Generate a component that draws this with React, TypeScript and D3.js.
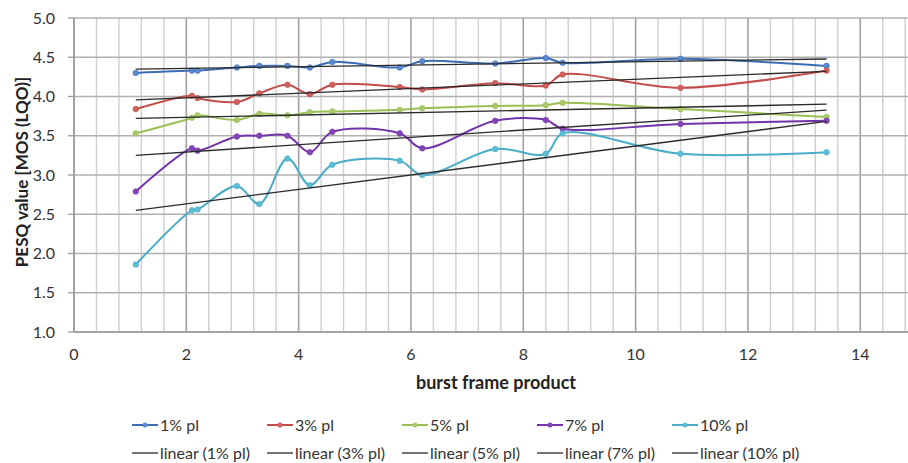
import React from "react";
import * as d3 from "d3";

const xValues = [1.1, 2.1, 2.2, 2.9, 3.3, 3.8, 4.2, 4.6, 5.8, 6.2, 7.5, 8.4, 8.7, 10.8, 13.4];
const pl1 = [4.30, 4.33, 4.33, 4.37, 4.39, 4.39, 4.37, 4.44, 4.37, 4.45, 4.42, 4.49, 4.43, 4.48, 4.39];
const pl3 = [3.84, 4.01, 3.98, 3.93, 4.04, 4.15, 4.03, 4.15, 4.12, 4.09, 4.17, 4.14, 4.28, 4.11, 4.33];
const pl5 = [3.53, 3.73, 3.76, 3.70, 3.78, 3.76, 3.80, 3.81, 3.83, 3.85, 3.88, 3.89, 3.92, 3.84, 3.74];
const pl7 = [2.79, 3.34, 3.31, 3.49, 3.50, 3.50, 3.29, 3.55, 3.53, 3.34, 3.69, 3.70, 3.59, 3.65, 3.69];
const pl10 = [1.86, 2.55, 2.56, 2.86, 2.63, 3.21, 2.87, 3.13, 3.18, 3.00, 3.33, 3.27, 3.53, 3.27, 3.29];

const seriesNames = ["1% pl", "3% pl", "5% pl", "7% pl", "10% pl"];
const seriesValues = [pl1, pl3, pl5, pl7, pl10];
const seriesColors = ["#3d6cb3", "#c24e4b", "#9bbf55", "#7234a8", "#48adc8"];
const markerColors = ["#5b8ad0", "#d0605c", "#a8c96a", "#8445b8", "#5cbdd6"];

const yTicks = [1.0, 1.5, 2.0, 2.5, 3.0, 3.5, 4.0, 4.5, 5.0];
const xTicks = [0, 2, 4, 6, 8, 10, 12, 14];

const W = 908;
const H = 463;
const left = 74;
const right = 908;
const top = 18;
const bottom = 332;
const FONT = "Lato, 'Open Sans', 'DejaVu Sans', sans-serif";

function linearFit(xs: number[], ys: number[]) {
  const mx = d3.mean(xs) as number;
  const my = d3.mean(ys) as number;
  let sxy = 0;
  let sxx = 0;
  xs.forEach((x, i) => {
    sxy += (x - mx) * (ys[i] - my);
    sxx += (x - mx) * (x - mx);
  });
  const b = sxy / sxx;
  const a = my - b * mx;
  return (x: number) => a + b * x;
}

export default function App() {
  const x = d3.scaleLinear().domain([0, 14.85]).range([left, right]);
  const y = d3.scaleLinear().domain([1, 5]).range([bottom, top]);

  const minorX = d3.range(0, 14.85, 0.4).map((v) => +v.toFixed(2));
  const line = d3
    .line<[number, number]>()
    .x((d) => x(d[0]))
    .y((d) => y(d[1]))
    .curve(d3.curveCatmullRom.alpha(0.5));

  const xMin = d3.min(xValues) as number;
  const xMax = d3.max(xValues) as number;

  const legendX = [132, 267, 402, 537, 672];

  return (
    <svg
      width={W}
      height={H}
      style={{ position: "absolute", left: 0, top: 0, background: "#fff" }}
      fontFamily={FONT}
    >
      {/* minor vertical grid */}
      {minorX.map((v, i) => {
        const major = Math.abs(v / 2 - Math.round(v / 2)) < 1e-6;
        return (
          <line
            key={"vx" + i}
            x1={x(v)}
            x2={x(v)}
            y1={top}
            y2={bottom}
            stroke={major ? "#a0a0a0" : "#cfcfcf"}
            strokeWidth={major ? 1.6 : 1.4}
          />
        );
      })}
      {/* horizontal grid */}
      {yTicks.map((v) => (
        <line
          key={"hy" + v}
          x1={left}
          x2={W}
          y1={y(v)}
          y2={y(v)}
          stroke="#b0b0b0"
          strokeWidth={1.6}
        />
      ))}
      {/* axes */}
      <line x1={left} x2={left} y1={top} y2={bottom} stroke="#9a9a9a" strokeWidth={1.3} />
      <line x1={left} x2={W} y1={bottom} y2={bottom} stroke="#9a9a9a" strokeWidth={1.3} />
      {yTicks.map((v) => (
        <g key={"yt" + v}>
          <line x1={left - 6} x2={left} y1={y(v)} y2={y(v)} stroke="#9a9a9a" strokeWidth={1.3} />
          <text
            x={55}
            y={y(v)}
            dy="0.35em"
            textAnchor="end"
            fontSize={16}
            fill="#333"
          >
            {v.toFixed(1)}
          </text>
        </g>
      ))}
      {xTicks.map((v) => (
        <text
          key={"xt" + v}
          x={x(v)}
          y={354}
          dy="0.35em"
          textAnchor="middle"
          fontSize={16}
          fill="#333"
        >
          {v}
        </text>
      ))}

      {/* axis titles */}
      <text
        x={496}
        y={383}
        dy="0.35em"
        textAnchor="middle"
        fontSize={18}
        fontWeight="bold"
        fill="#222"
      >
        burst frame product
      </text>
      <text
        transform={`translate(22,${(top + bottom) / 2 - 3}) rotate(-90)`}
        dy="0.35em"
        textAnchor="middle"
        fontSize={17}
        fontWeight="bold"
        fill="#222"
      >
        PESQ value [MOS (LQO)]
      </text>

      {/* series */}
      {seriesValues.map((vals, si) => {
        const pts = xValues.map((xv, i) => [xv, vals[i]] as [number, number]);
        return (
          <g key={"s" + si}>
            <path d={line(pts) || ""} fill="none" stroke={seriesColors[si]} strokeWidth={2} />
            {pts.map((p, i) => (
              <circle
                key={i}
                cx={x(p[0])}
                cy={y(p[1])}
                r={2.8}
                fill={markerColors[si]}
                stroke={seriesColors[si]}
                strokeWidth={0.6}
              />
            ))}
          </g>
        );
      })}

      {/* trend lines */}
      {seriesValues.map((vals, si) => {
        const f = linearFit(xValues, vals);
        return (
          <line
            key={"t" + si}
            x1={x(xMin)}
            x2={x(xMax)}
            y1={y(f(xMin))}
            y2={y(f(xMax))}
            stroke="#2a2a2a"
            strokeWidth={1.3}
          />
        );
      })}

      {/* legend */}
      {seriesNames.map((name, i) => (
        <g key={"l" + i}>
          <line
            x1={legendX[i]}
            x2={legendX[i] + 26}
            y1={425}
            y2={425}
            stroke={seriesColors[i]}
            strokeWidth={2}
          />
          <circle cx={legendX[i] + 13} cy={425} r={2.5} fill={markerColors[i]} />
          <text x={legendX[i] + 28} y={425} dy="0.35em" fontSize={16} fill="#333">
            {name}
          </text>
          <line
            x1={legendX[i]}
            x2={legendX[i] + 26}
            y1={453}
            y2={453}
            stroke="#2a2a2a"
            strokeWidth={1.3}
          />
          <text x={legendX[i] + 28} y={453} dy="0.35em" fontSize={16} fill="#333">
            {"linear (" + name + ")"}
          </text>
        </g>
      ))}
    </svg>
  );
}
